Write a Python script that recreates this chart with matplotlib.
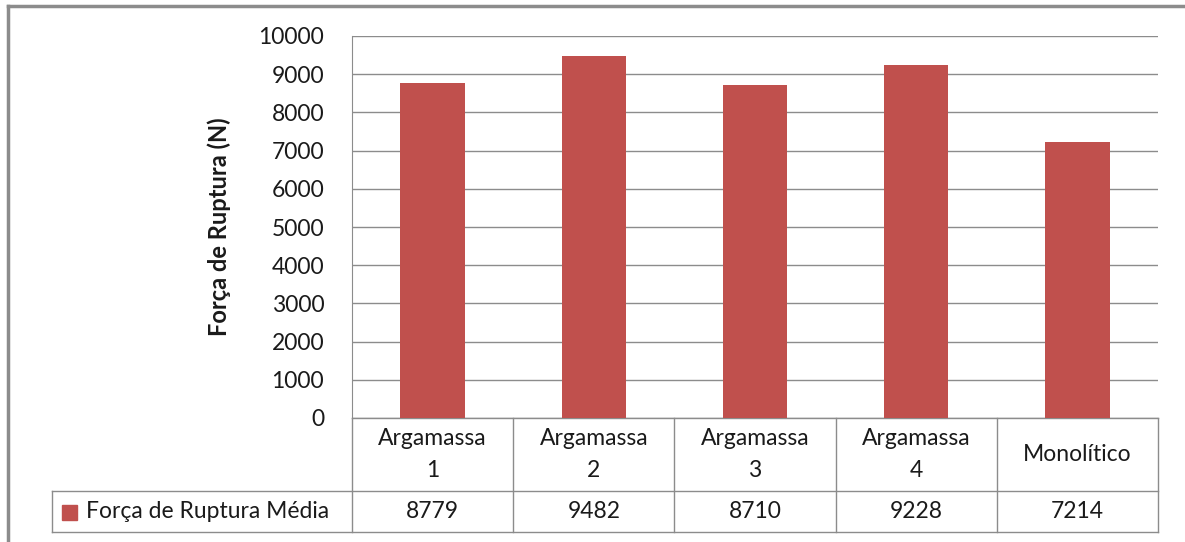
import matplotlib.pyplot as plt
from matplotlib.transforms import blended_transform_factory
from matplotlib.patches import Rectangle
from matplotlib.lines import Line2D

categories = ["Argamassa\n1", "Argamassa\n2", "Argamassa\n3", "Argamassa\n4", "Monolítico"]
values = [8779, 9482, 8710, 9228, 7214]
series_name = "Força de Ruptura Média"
yticks = [0, 1000, 2000, 3000, 4000, 5000, 6000, 7000, 8000, 9000, 10000]

bar_color = "#C0504D"
grid_color = "#8C8C8C"
text_color = "#1A1A1A"
plt.rcParams["font.family"] = ["Lato", "DejaVu Sans"]
fs = 16.5

W, H = 1185, 542
fig = plt.figure(figsize=(W / 100, H / 100), dpi=100)
ax = fig.add_axes([352 / W, 1 - 418 / H, (1158 - 352) / W, (418 - 36) / H])

x = list(range(len(categories)))
ax.bar(x, values, width=0.4, color=bar_color, zorder=3)

ax.set_xlim(-0.5, len(categories) - 0.5)
ax.set_ylim(0, 10000)
ax.set_yticks(yticks)
ax.set_xticks([])
ax.yaxis.grid(True, color=grid_color, linewidth=1)
ax.tick_params(axis="y", length=0, pad=20, labelsize=fs, labelcolor=text_color)
for side in ["top", "right", "bottom"]:
    ax.spines[side].set_visible(False)
ax.spines["left"].set_color(grid_color)
ax.set_ylabel("Força de Ruptura (N)", fontsize=17, fontweight="bold",
              color=text_color, labelpad=20)

# data table under the plot
bt = blended_transform_factory(ax.transData, ax.transAxes)
row_mid = -0.191
row_bot = -0.298
tbl_left = (52 - 352) / (1158 - 352)
n = len(categories)

lines = []
for i in range(n + 1):
    lines.append(Line2D([i - 0.5, i - 0.5], [0, row_bot], transform=bt))
lines.append(Line2D([-0.5, n - 0.5], [0, 0], transform=bt))
lines.append(Line2D([tbl_left, 1], [row_mid, row_mid], transform=ax.transAxes))
lines.append(Line2D([tbl_left, 1], [row_bot, row_bot], transform=ax.transAxes))
lines.append(Line2D([tbl_left, tbl_left], [row_mid, row_bot], transform=ax.transAxes))
for ln in lines:
    ln.set_color(grid_color)
    ln.set_linewidth(1)
    ln.set_clip_on(False)
    ax.add_artist(ln)

for i, (cat, val) in enumerate(zip(categories, values)):
    ax.text(i, row_mid / 2, cat, transform=bt, ha="center", va="center",
            fontsize=fs, color=text_color, linespacing=1.6)
    ax.text(i, (row_mid + row_bot) / 2, str(val), transform=bt, ha="center",
            va="center", fontsize=fs, color=text_color)

fig.patches.append(Rectangle((62 / W, 1 - 520 / H), 15 / W, 15 / H,
                             transform=fig.transFigure, color=bar_color))
fig.text(86 / W, 1 - 512 / H, series_name, ha="left", va="center",
         fontsize=fs, color=text_color)

# chart area border
fig.add_artist(Line2D([8 / W, 1], [1 - 6 / H, 1 - 6 / H], color="#8C8C8C",
                      linewidth=2.5, transform=fig.transFigure))
fig.add_artist(Line2D([8 / W, 8 / W], [0, 1 - 6 / H], color="#8C8C8C",
                      linewidth=2.5, transform=fig.transFigure))

fig.savefig("out.png", dpi=100)
